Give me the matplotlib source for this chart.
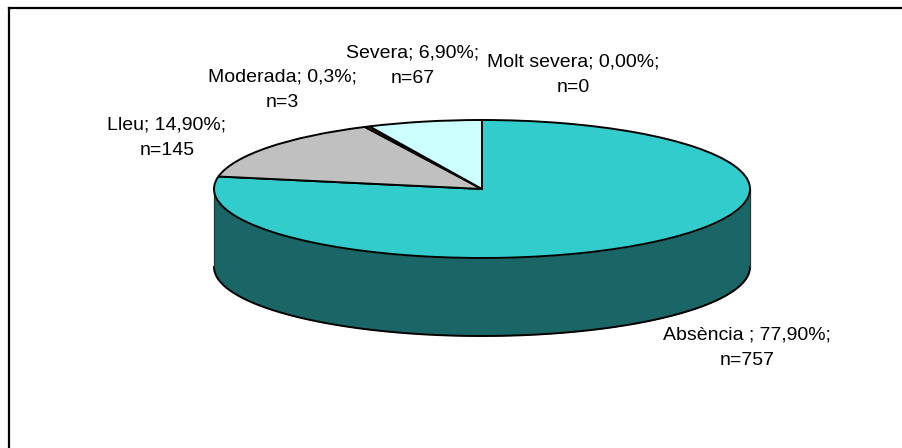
import numpy as np
import matplotlib
matplotlib.use("Agg")
import matplotlib.pyplot as plt

# dades
categories = ["Absència ", "Lleu", "Moderada", "Severa", "Molt severa"]
percents = [77.9, 14.9, 0.3, 6.9, 0.0]
pct_labels = ["77,90%", "14,90%", "0,3%", "6,90%", "0,00%"]
counts = [757, 145, 3, 67, 0]
colors = ["#33CCCC", "#C0C0C0", "#993300", "#CCFFFF", "#FFFFFF"]

W, H = 903, 448
CX, CY = 482, 189   # centre of the top face, px
RX, RY = 268, 69    # ellipse half axes, px
DEPTH = 78          # height of the wall, px

plt.rcParams["font.family"] = ["Liberation Sans", "DejaVu Sans"]

fig = plt.figure(figsize=(W / 100, H / 100), dpi=100, facecolor="white")
ax = fig.add_axes([0, 0, 1, 1])

# pie on the unit circle, squashed afterwards by the axis limits
wedges, _ = ax.pie(
    percents, colors=colors, startangle=90, counterclock=False, radius=1,
    wedgeprops={"edgecolor": "black", "linewidth": 1.4, "zorder": 3},
)
ax.set_aspect("auto")
ax.set_xlim(-CX / RX, (W - CX) / RX)
ax.set_ylim((CY - H) / RY, CY / RY)
ax.axis("off")

# front wall of the cake
t = np.linspace(np.pi, 2 * np.pi, 300)
d = DEPTH / RY
ax.fill_between(np.cos(t), np.sin(t), np.sin(t) - d, color="#1A6666", lw=0, zorder=1)
ax.plot(np.cos(t), np.sin(t) - d, color="black", lw=1.4, zorder=2)
ax.plot([-1, -1], [0, -d], color="#333333", lw=0.9, zorder=2)
ax.plot([1, 1], [0, -d], color="#333333", lw=0.9, zorder=2)

# label centres in px
label_pos = [(747, 347.5), (167, 138), (282, 90), (413, 66), (573, 74.5)]
for name, pct, n, (x, y) in zip(categories, pct_labels, counts, label_pos):
    fig.text(x / W, 1 - y / H, f"{name}; {pct};\nn={n}", ha="center", va="center",
             fontsize=14, linespacing=1.62, color="black")

# outer frame, only top and left fall inside the image
fig.add_artist(plt.Line2D([8.5 / W, 8.5 / W], [0, 1 - 8.5 / H], color="black", lw=1.6))
fig.add_artist(plt.Line2D([8.5 / W, 1], [1 - 8.5 / H, 1 - 8.5 / H], color="black", lw=1.6))

fig.savefig("out.png", dpi=100)
